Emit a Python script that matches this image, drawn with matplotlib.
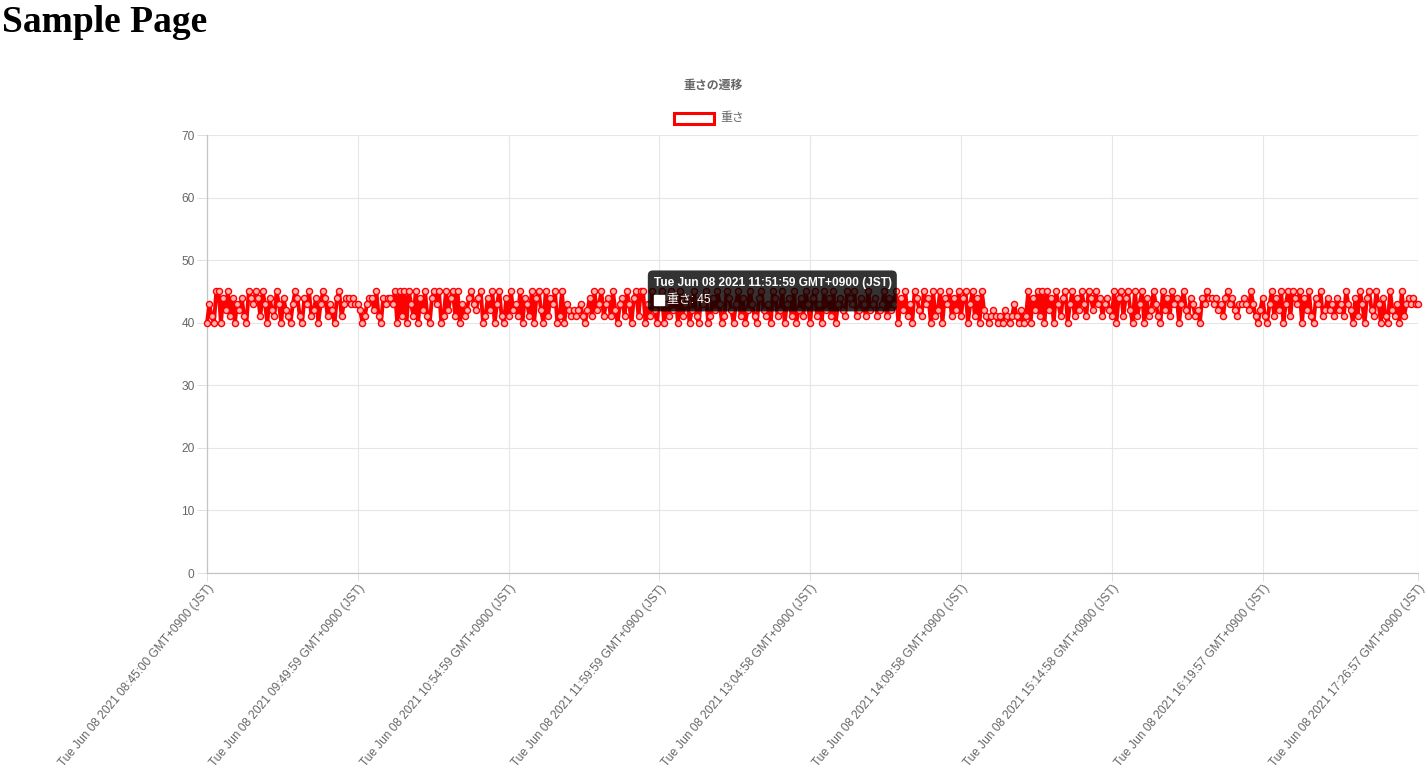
import matplotlib
matplotlib.use("Agg")
import matplotlib.pyplot as plt
from matplotlib.patches import FancyBboxPatch, Rectangle

# 重さの記録 (1分ごと、08:45:00 〜 17:26:57)
seg1 = [40, 43, 41, 40, 45, 45, 40, 44, 42, 45, 41, 44, 40,
        43, 42, 44, 41, 40, 45, 44, 43, 45, 44, 41, 45, 43,
        40, 44, 42, 41, 45, 43, 40, 44, 42, 41, 40, 43, 45,
        44, 41, 40, 44, 43, 45, 41, 42, 44, 40, 43, 45, 44,
        41, 43, 42, 40, 44, 45, 41, 43, 44, 44, 43, 44, 43]
seg2 = [43, 42, 40, 41, 43, 44, 44, 42, 45, 41, 40, 44, 43,
        44, 44, 43, 45, 40, 45, 41, 45, 40, 45, 43, 41, 45,
        40, 44, 42, 45, 41, 40, 44, 45, 43, 45, 40, 41, 45,
        42, 44, 45, 41, 45, 40, 43, 41, 42, 44, 45, 43, 42,
        44, 45, 40, 41, 44, 42, 45, 40, 43, 45, 41, 40, 44]
seg3 = [41, 45, 42, 43, 41, 45, 40, 44, 43, 41, 45, 40, 44,
        45, 42, 40, 45, 41, 44, 43, 45, 40, 41, 45, 40, 43,
        42, 41, 42, 41, 42, 43, 41, 40, 42, 44, 41, 45, 42,
        43, 45, 41, 43, 44, 41, 45, 42, 40, 43, 44, 41, 45,
        43, 40, 44, 45, 41, 45, 45, 40, 43, 41, 45, 42, 40]
seg4 = [44, 45, 40, 43, 41, 45, 42, 44, 40, 45, 41, 43, 44,
        40, 42, 45, 41, 40, 44, 43, 45, 40, 41, 44, 42, 45,
        43, 40, 41, 45, 44, 42, 40, 43, 45, 41, 44, 40, 42,
        45, 43, 41, 40, 44, 45, 42, 41, 43, 40, 45, 44, 41,
        42, 45, 40, 43, 44, 41, 45, 40, 42, 44, 41, 45, 43]
seg5 = [40, 44, 45, 41, 43, 40, 45, 42, 44, 41, 45, 40, 43,
        44, 42, 41, 45, 44, 43, 45, 41, 42, 44, 43, 41, 45,
        42, 43, 44, 41, 42, 43, 45, 41, 44, 42, 43, 45, 40,
        44, 42, 45, 41, 43, 40, 45, 44, 42, 41, 45, 43, 44,
        40, 45, 41, 42, 45, 40, 44, 43, 45, 41, 44, 42, 45]
seg6 = [41, 44, 45, 40, 43, 45, 41, 44, 40, 45, 42, 41, 40,
        41, 42, 41, 40, 41, 40, 42, 41, 40, 41, 43, 41, 40,
        42, 40, 41, 45, 40, 44, 42, 45, 41, 45, 40, 45, 42,
        44, 40, 45, 43, 41, 44, 45, 40, 43, 45, 41, 44, 42,
        45, 43, 41, 45, 44, 42, 45, 43, 44, 41, 43, 44, 42]
seg7 = [41, 45, 40, 44, 45, 41, 44, 45, 42, 40, 45, 41, 43,
        45, 40, 44, 41, 42, 45, 43, 41, 40, 45, 42, 44, 41,
        45, 43, 44, 40, 43, 45, 42, 41, 44, 43, 41, 42, 40,
        44, 43, 45, 44, 44, 43, 44, 42, 43, 41, 44, 45, 43,
        44, 42, 41, 43, 43, 44, 43, 42, 45, 43, 41, 40, 42]
seg8 = [44, 41, 40, 43, 45, 41, 44, 42, 45, 40, 43, 45, 41,
        45, 44, 43, 45, 40, 44, 42, 45, 41, 40, 44, 43, 45,
        41, 42, 44, 42, 43, 41, 44, 42, 43, 41, 45, 43, 42,
        40, 44, 41, 45, 43, 40, 44, 45, 42, 41, 45, 43, 40,
        44, 41, 40, 45, 42, 41, 43, 40, 45, 41, 43, 44, 43,
        44, 43, 43]

omosa = seg1 + seg2 + seg3 + seg4 + seg5 + seg6 + seg7 + seg8

tick_labels = [
    "Tue Jun 08 2021 08:45:00 GMT+0900 (JST)",
    "Tue Jun 08 2021 09:49:59 GMT+0900 (JST)",
    "Tue Jun 08 2021 10:54:59 GMT+0900 (JST)",
    "Tue Jun 08 2021 11:59:59 GMT+0900 (JST)",
    "Tue Jun 08 2021 13:04:58 GMT+0900 (JST)",
    "Tue Jun 08 2021 14:09:58 GMT+0900 (JST)",
    "Tue Jun 08 2021 15:14:58 GMT+0900 (JST)",
    "Tue Jun 08 2021 16:19:57 GMT+0900 (JST)",
    "Tue Jun 08 2021 17:26:57 GMT+0900 (JST)",
]
tooltip_label = "Tue Jun 08 2021 11:51:59 GMT+0900 (JST)"
tooltip_index = 187

FONT = ["Liberation Sans", "Noto Sans CJK JP"]
GRAY = "#666666"
W, H = 1426, 778

fig = plt.figure(figsize=(W / 100, H / 100), dpi=100)
ax = fig.add_axes([207 / W, 1 - 573 / H, (1418 - 207) / W, (573 - 135) / H])

x = list(range(len(omosa)))
ax.plot(x, omosa, color="#ff0000", lw=2.8, marker="o", markersize=4.4,
        markerfacecolor="#ffb0b0", markeredgecolor="#ff0000", markeredgewidth=1.0,
        zorder=3, clip_on=False)

ax.set_xlim(0, len(omosa) - 1)
ax.set_ylim(0, 70)
ax.set_yticks(range(0, 71, 10))

tick_pos = [i * 65 for i in range(8)] + [len(omosa) - 1]
ax.set_xticks(tick_pos)
ax.set_xticklabels(tick_labels, rotation=50, ha="right", va="top",
                   rotation_mode="anchor", family=FONT, fontsize=8.6, color=GRAY)
for lbl in ax.get_yticklabels():
    lbl.set_family(FONT)
    lbl.set_fontsize(8.6)
    lbl.set_color(GRAY)

ax.tick_params(axis="x", length=6, width=0.7, color="#e0e0e0", pad=1)
ax.tick_params(axis="y", length=7, width=0.7, color="#e0e0e0", pad=2)
ax.grid(True, color="#e6e6e6", lw=0.8)
ax.set_axisbelow(True)
for s in ["top", "right"]:
    ax.spines[s].set_visible(False)
for s in ["left", "bottom"]:
    ax.spines[s].set_color("#c4c4c4")
    ax.spines[s].set_linewidth(0.9)

# ヘッダー
fig.text(2 / W, 1 - 32 / H, "Sample Page", family="Liberation Serif",
         fontweight="bold", fontsize=27, va="baseline", ha="left")

# タイトル
fig.text(713 / W, 1 - 86 / H, "重さの遷移", family=FONT, fontweight="bold",
         fontsize=8.6, color=GRAY, ha="center", va="center")

# 凡例
fig.patches.append(Rectangle((674, H - 124), 40, 11, transform=None,
                             facecolor="white", edgecolor="#ff0000", lw=2.2))
fig.text(720 / W, 1 - 118 / H, "重さ", family=FONT, fontsize=8.6, color=GRAY,
         ha="left", va="center")

# ツールチップ
fig.canvas.draw()
px, py = ax.transData.transform((tooltip_index, omosa[tooltip_index]))
box = FancyBboxPatch((px + 7, py - 20), 249, 41, transform=None,
                     boxstyle="round,pad=0,rounding_size=5",
                     facecolor=(0, 0, 0, 0.8), edgecolor="none", zorder=10)
fig.patches.append(box)
fig.text((px + 13) / W, (py + 8) / H, tooltip_label, family=FONT,
         fontweight="bold", fontsize=8.6, color="white", ha="left",
         va="center", zorder=11)
fig.patches.append(Rectangle((px + 13, py - 14), 10, 10, transform=None,
                             facecolor="white", edgecolor="white", lw=1, zorder=11))
fig.text((px + 26) / W, (py - 9) / H, f"重さ: {omosa[tooltip_index]}",
         family=FONT, fontsize=8.6, color="white", ha="left", va="center",
         zorder=11)

fig.savefig("out.png", dpi=100)
